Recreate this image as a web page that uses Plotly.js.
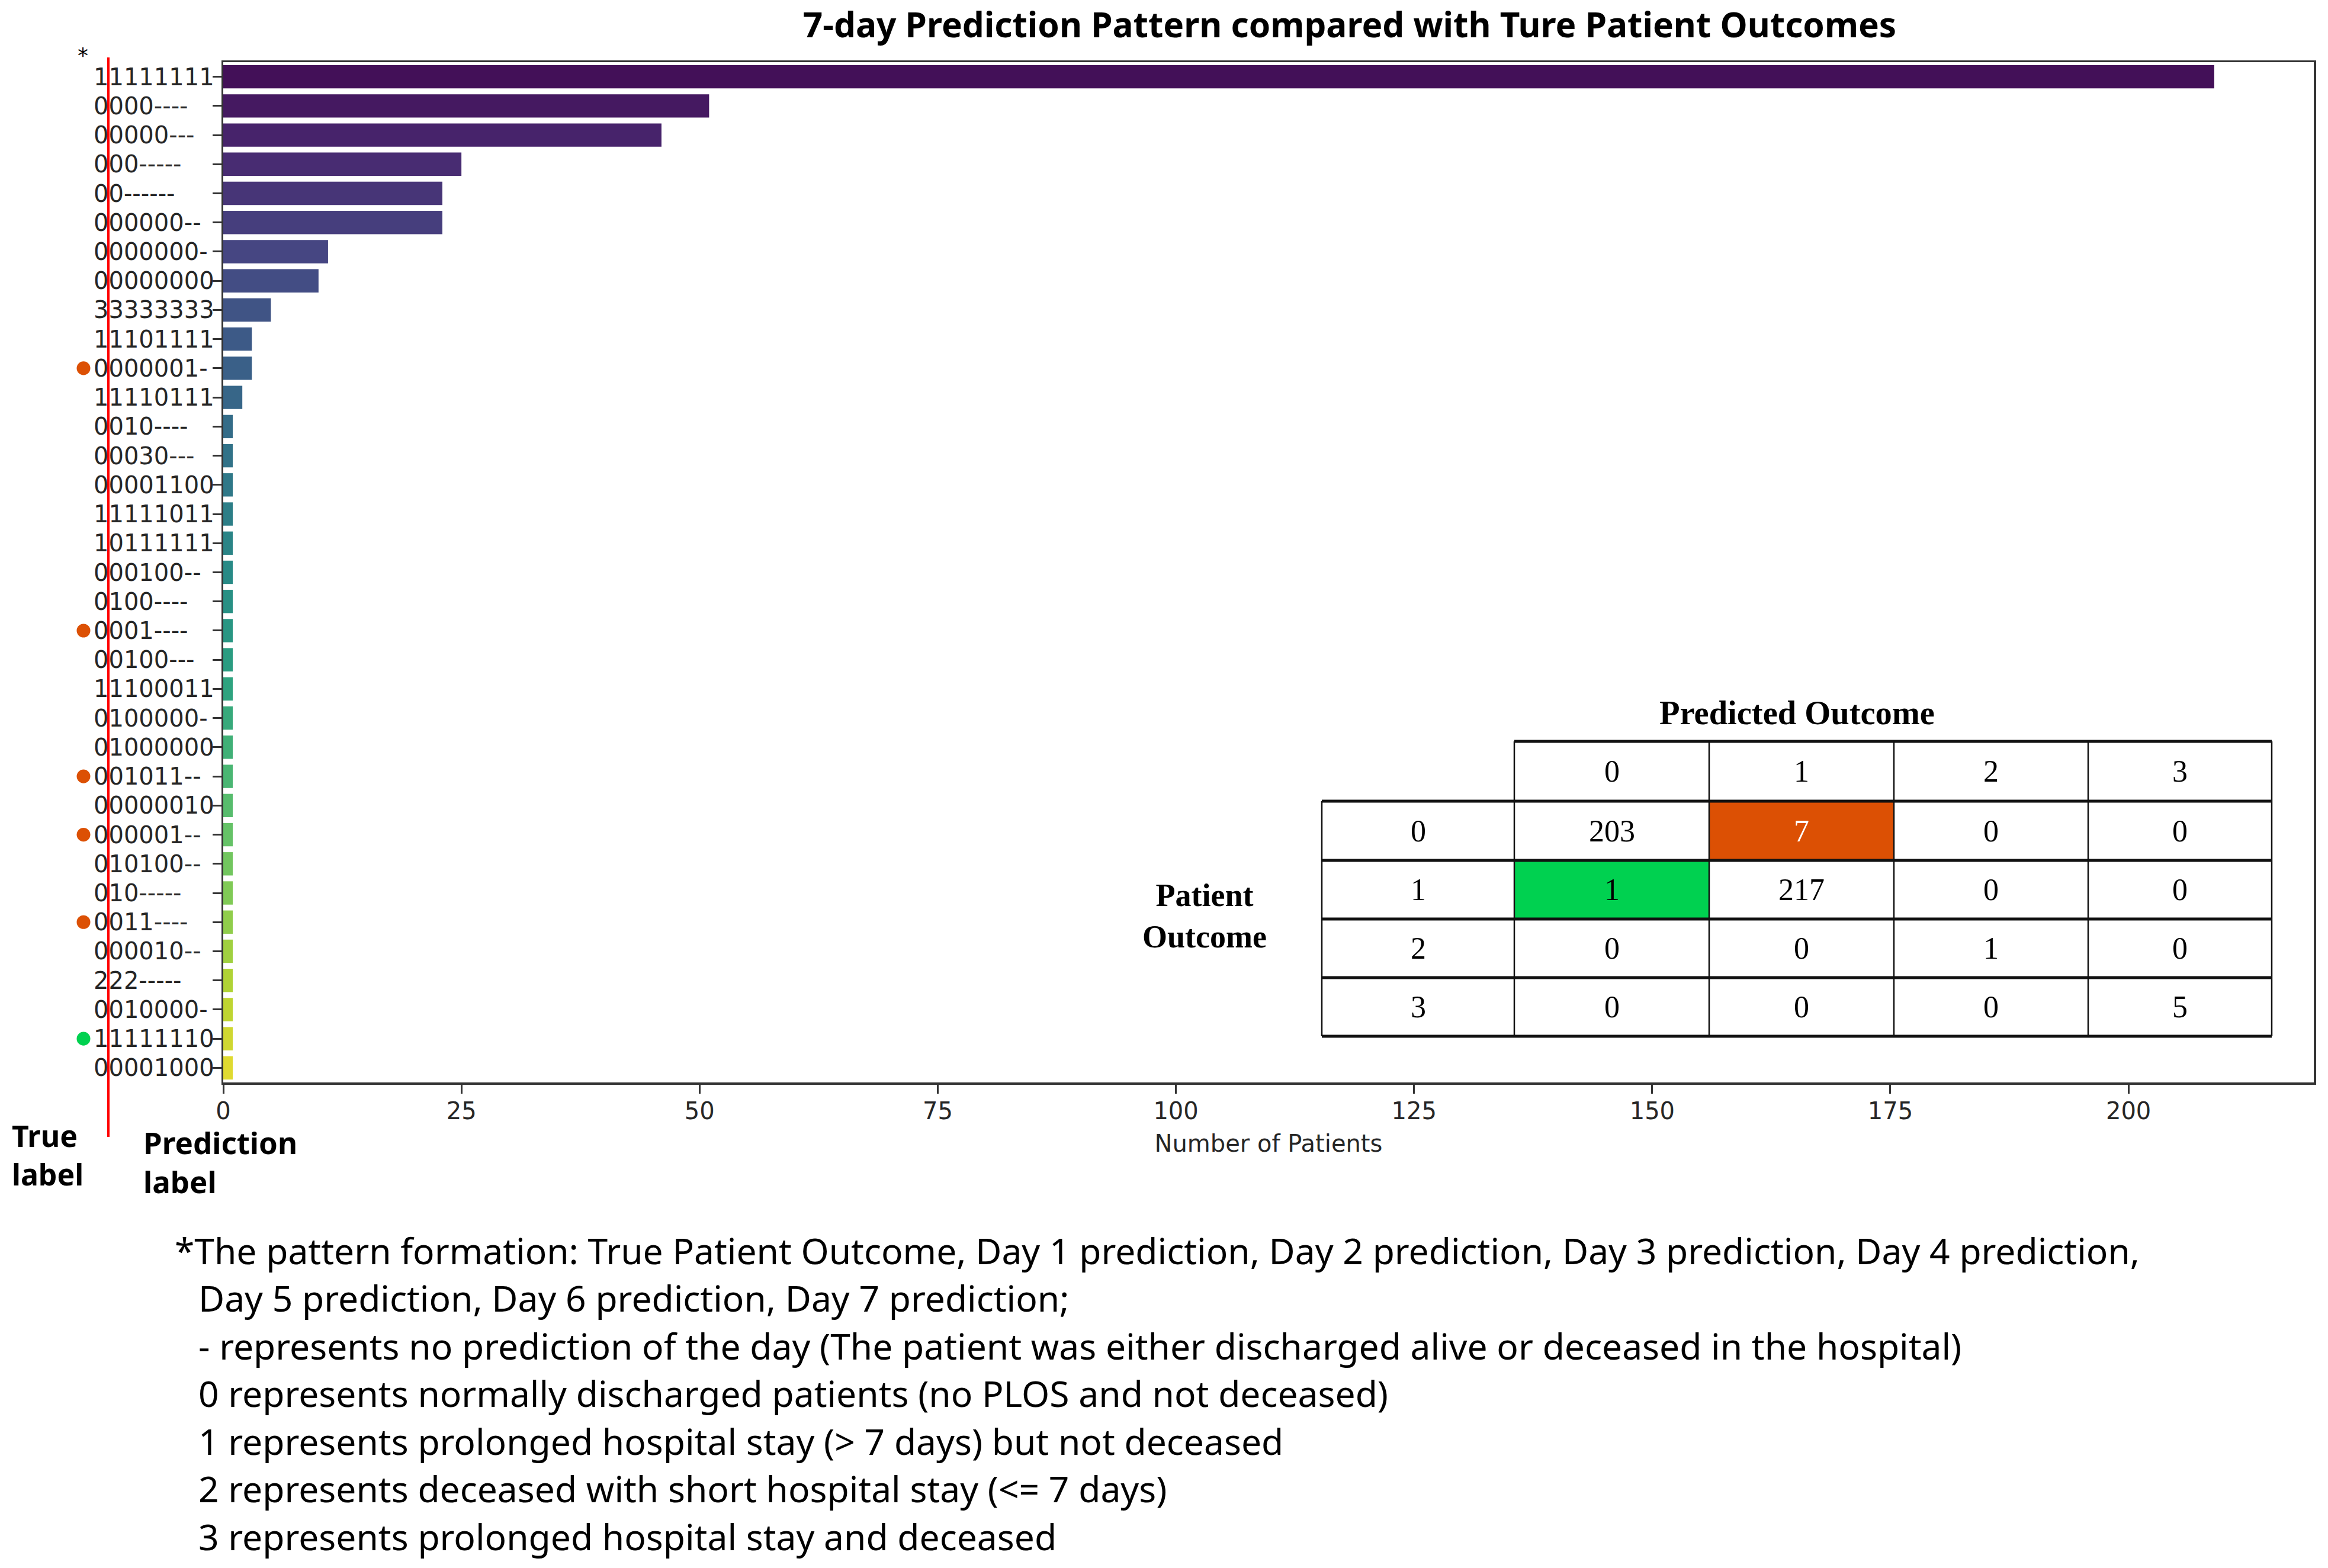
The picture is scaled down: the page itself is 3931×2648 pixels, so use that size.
<!DOCTYPE html>
<html>
<head>
<meta charset="utf-8">
<script src="https://cdn.plot.ly/plotly-3.0.1.min.js"></script>
<style>html,body{margin:0;padding:0;background:#fff}#chart{width:3931px;height:2648px}</style>
</head>
<body>
<div id="chart"></div>
<script>
// ---------------- data ----------------
const patterns = ['11111111','0000----','00000---','000-----','00------','000000--','0000000-','00000000',
  '33333333','11101111','0000001-','11110111','0010----','00030---','00001100','11111011','10111111',
  '000100--','0100----','0001----','00100---','11100011','0100000-','01000000','001011--','00000010',
  '000001--','010100--','010-----','0011----','000010--','222-----','0010000-','11111110','00001000'];
const patientCounts = [209,51,46,25,23,23,11,10,5,3,3,2,1,1,1,1,1,1,1,1,1,1,1,1,1,1,1,1,1,1,1,1,1,1,1];
const falsePositivePatterns = ['0000001-','0001----','001011--','000001--','0011----']; // true 0, predicted 1
const falseNegativePatterns = ['11111110'];                                         // true 1, predicted 0
const xTickVals = [0,25,50,75,100,125,150,175,200];
const predictedLabels = ['0','1','2','3'];
const outcomeLabels = ['0','1','2','3'];
const confusion = [[203,7,0,0],[1,217,0,0],[0,0,1,0],[0,0,0,5]];
const highlightCells = [{r:0,c:1,color:'#dc5004',text:'#ffffff'},{r:1,c:0,color:'#00d150',text:'#000000'}];
const notes = [
  '*The pattern formation: True Patient Outcome, Day 1 prediction, Day 2 prediction, Day 3 prediction, Day 4 prediction,',
  'Day 5 prediction, Day 6 prediction, Day 7 prediction;',
  '- represents no prediction of the day (The patient was either discharged alive or deceased in the hospital)',
  '0 represents normally discharged patients (no PLOS and not deceased)',
  '1 represents prolonged hospital stay (&gt; 7 days) but not deceased',
  '2 represents deceased with short hospital stay (&lt;= 7 days)',
  '3 represents prolonged hospital stay and deceased'
];

// ---------------- colours (seaborn-style viridis, slightly desaturated) ----------------
const vir = ['#440154','#482475','#414487','#355f8d','#2a788e','#21918c','#22a884','#44bf70','#7ad151','#bddf26','#fde725'];
function hex2rgb(h){return [1,3,5].map(i=>parseInt(h.substr(i,2),16)/255);}
function viridis(t){const s=t*10;const i=Math.min(9,Math.floor(s));const f=s-i;const a=hex2rgb(vir[i]),b=hex2rgb(vir[i+1]);return a.map((v,k)=>v+(b[k]-v)*f);}
function desat(rgb,p){
  const [r,g,b]=rgb;const mx=Math.max(r,g,b),mn=Math.min(r,g,b);const l=(mx+mn)/2;let h=0,s=0;
  if(mx!==mn){const d=mx-mn;s=l>0.5?d/(2-mx-mn):d/(mx+mn);
    if(mx===r)h=((g-b)/d+(g<b?6:0));else if(mx===g)h=(b-r)/d+2;else h=(r-g)/d+4;h/=6;}
  s*=p;
  function hue(p1,q,t){if(t<0)t+=1;if(t>1)t-=1;if(t<1/6)return p1+(q-p1)*6*t;if(t<1/2)return q;if(t<2/3)return p1+(q-p1)*(2/3-t)*6;return p1;}
  let out;if(s===0)out=[l,l,l];else{const q=l<0.5?l*(1+s):l+s-l*s;const p1=2*l-q;out=[hue(p1,q,h+1/3),hue(p1,q,h),hue(p1,q,h-1/3)];}
  return 'rgb('+out.map(v=>Math.round(v*255)).join(',')+')';
}
const n = patterns.length;
const barColors = patterns.map((_,i)=>desat(viridis((i+1)/(n+1)),0.88));

// ---------------- geometry helpers (pixels -> paper) ----------------
const W=3931,H=2648,L=377,R=3907,T=105,B=1828;
const px = x => (x-L)/(R-L);
const py = y => (B-y)/(B-T);

const shapes = [];
const annotations = [];

// y tick labels, left aligned (positioned by category index on the y axis)
patterns.forEach((p,i)=>annotations.push({xref:'paper',yref:'y',x:px(156),y:i,text:p,showarrow:false,xanchor:'left',yanchor:'middle',
  font:{family:'DejaVu Sans',size:40,color:'#262626'}}));

// red separator line
shapes.push({type:'line',xref:'paper',yref:'paper',x0:px(183),x1:px(183),y0:py(97),y1:py(1920),line:{color:'#ff0000',width:4}});

// coloured dots
function addDot(p,color){const i=patterns.indexOf(p);
  shapes.push({type:'circle',xref:'paper',yref:'y',x0:px(141-11.5),x1:px(141+11.5),y0:i-0.235,y1:i+0.235,fillcolor:color,line:{width:0}});}
falsePositivePatterns.forEach(p=>addDot(p,'#dc5004'));
falseNegativePatterns.forEach(p=>addDot(p,'#00d150'));

annotations.push({xref:'paper',yref:'paper',x:px(140),y:py(94),text:'*',showarrow:false,xanchor:'center',yanchor:'middle',font:{family:'DejaVu Sans',size:36,color:'#000'}});
annotations.push({xref:'paper',yref:'paper',x:px(18),y:py(1950),text:'<b>True<br>label</b>',align:'left',showarrow:false,xanchor:'left',yanchor:'middle',font:{family:'Noto Sans',size:50,color:'#000'}});
annotations.push({xref:'paper',yref:'paper',x:px(240),y:py(1962),text:'<b>Prediction<br>label</b>',align:'left',showarrow:false,xanchor:'left',yanchor:'middle',font:{family:'Noto Sans',size:51,color:'#000'}});

// ---------------- table ----------------
const colEdges=[2557,2886,3198,3526,3836], labelColX=[2232,2557];
const rowEdges=[1353,1453,1552,1651,1750], headerY=[1252,1353];
highlightCells.forEach(h=>shapes.push({type:'rect',xref:'paper',yref:'paper',x0:px(colEdges[h.c]),x1:px(colEdges[h.c+1]),
  y0:py(rowEdges[h.r]),y1:py(rowEdges[h.r+1]),fillcolor:h.color,line:{width:0}}));
[headerY[0]].concat(rowEdges).forEach((y,k)=>shapes.push({type:'line',xref:'paper',yref:'paper',
  x0:px(k===0?colEdges[0]:labelColX[0]),x1:px(colEdges[4]),y0:py(y),y1:py(y),line:{color:'#111',width:5}}));
[labelColX[0]].concat(colEdges).forEach((x,k)=>shapes.push({type:'line',xref:'paper',yref:'paper',
  x0:px(x),x1:px(x),y0:py(k===0?rowEdges[0]:headerY[0]),y1:py(rowEdges[4]),line:{color:'#111',width:2.5}}));
const serif={family:'Liberation Serif',size:52,color:'#000'};
predictedLabels.forEach((t,c)=>annotations.push({xref:'paper',yref:'paper',x:px((colEdges[c]+colEdges[c+1])/2),y:py((headerY[0]+headerY[1])/2),
  text:t,showarrow:false,xanchor:'center',yanchor:'middle',font:serif}));
outcomeLabels.forEach((t,r)=>annotations.push({xref:'paper',yref:'paper',x:px((labelColX[0]+labelColX[1])/2),y:py((rowEdges[r]+rowEdges[r+1])/2),
  text:t,showarrow:false,xanchor:'center',yanchor:'middle',font:serif}));
confusion.forEach((row,r)=>row.forEach((v,c)=>{
  const h=highlightCells.find(q=>q.r===r&&q.c===c);
  annotations.push({xref:'paper',yref:'paper',x:px((colEdges[c]+colEdges[c+1])/2),y:py((rowEdges[r]+rowEdges[r+1])/2),
  text:String(v),showarrow:false,xanchor:'center',yanchor:'middle',font:Object.assign({},serif,{color:h?h.text:'#000'})});}));
annotations.push({xref:'paper',yref:'paper',x:px(3034),y:py(1204),text:'<b>Predicted Outcome</b>',showarrow:false,xanchor:'center',yanchor:'middle',
  font:{family:'Liberation Serif',size:56.5,color:'#000'}});
annotations.push({xref:'paper',yref:'paper',x:px(2034),y:py(1547),text:'<b>Patient<br>Outcome</b>',showarrow:false,xanchor:'center',yanchor:'middle',
  font:{family:'Liberation Serif',size:54,color:'#000'}});

// ---------------- notes ----------------
const noteX=[293,333,333,333,333,333,333];
notes.forEach((t,i)=>annotations.push({xref:'paper',yref:'paper',x:px(noteX[i]),y:py(2134+80.5*i-23),text:t,showarrow:false,
  xanchor:'left',yanchor:'middle',font:{family:'Noto Sans',size:60.5,color:'#000'}}));

// ---------------- plot ----------------
const trace={type:'bar',orientation:'h',x:patientCounts,y:patterns,marker:{color:barColors,line:{width:0}},hoverinfo:'x+y'};
const layout={
  width:W,height:H,margin:{l:L,r:W-R,t:T,b:H-B,pad:0},
  paper_bgcolor:'#fff',plot_bgcolor:'#fff',showlegend:false,bargap:0.2,
  title:{text:'<b>7-day Prediction Pattern compared with Ture Patient Outcomes</b>',xref:'container',yref:'container',
    x:2279/W,xanchor:'center',y:1-43/H,yanchor:'middle',font:{family:'Noto Sans',size:58.5,color:'#000'}},
  xaxis:{range:[0,219.45],tickmode:'array',tickvals:xTickVals,ticktext:xTickVals.map(String),ticks:'outside',ticklen:15,tickwidth:3,tickcolor:'#333',
    showline:true,linecolor:'#333',linewidth:3.5,mirror:true,showgrid:false,zeroline:false,automargin:false,ticklabelstandoff:-5,
    tickfont:{family:'DejaVu Sans',size:40,color:'#262626'},
    title:{text:'Number of Patients',standoff:20,font:{family:'DejaVu Sans',size:40,color:'#262626'}}},
  yaxis:{type:'category',range:[n-0.5,-0.5],ticks:'outside',ticklen:15,tickwidth:3,tickcolor:'#333',showticklabels:false,
    showline:true,linecolor:'#333',linewidth:3.5,mirror:true,showgrid:false,zeroline:false,automargin:false},
  shapes:shapes,annotations:annotations
};
Plotly.newPlot('chart',[trace],layout,{displayModeBar:false,staticPlot:true});
</script>
</body>
</html>
